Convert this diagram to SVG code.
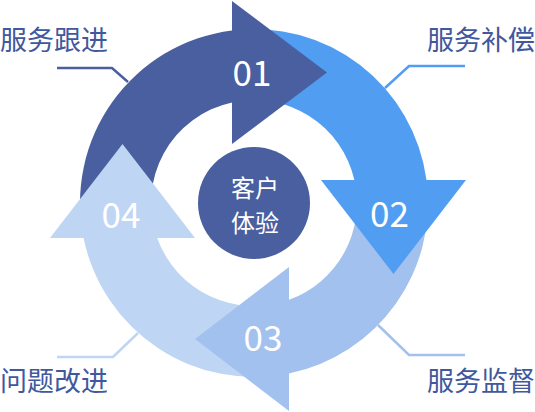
<svg xmlns="http://www.w3.org/2000/svg" width="535" height="412" viewBox="0 0 535 412">
<style>
.lbl{font-family:"Noto Sans CJK SC","Noto Sans",sans-serif;font-size:27px;fill:#41589c}
.num{font-family:"Noto Sans CJK SC","Noto Sans",sans-serif;font-size:35px;fill:#ffffff;text-anchor:middle}
.ctr{font-family:"Noto Sans CJK SC","Noto Sans",sans-serif;font-size:24px;fill:#ffffff;text-anchor:middle}
.lead{fill:none;stroke-width:2.5}
</style>
<rect width="535" height="412" fill="#ffffff"/>
<g id="connectors">
<polyline class="lead" stroke="#4a5fa0" points="57,68 112,68 128,82"/>
<polyline class="lead" stroke="#519df2" points="465,66 409,66 385,88"/>
<polyline class="lead" stroke="#a2c1ef" points="378,325 409,355 465,355"/>
<polyline class="lead" stroke="#bfd5f4" points="138,333 113,357 57,357"/>
</g>
<g id="bands">
<path fill="#4a5fa0" d="M83.56 238 A174 174 0 0 1 232 30.4 L232 102.38 A103 103 0 0 0 157.13 238 Z"/>
<path fill="#519df2" d="M232 30.4 A174 174 0 0 1 426.47 180 L354.4 180 A103 103 0 0 0 232 102.38 Z"/>
<path fill="#a2c1ef" d="M426.47 180 A174 174 0 0 1 289 373.44 L289 299.87 A103 103 0 0 0 354.4 180 Z"/>
<path fill="#bfd5f4" d="M289 373.44 A174 174 0 0 1 83.56 238 L157.13 238 A103 103 0 0 0 289 299.87 Z"/>
</g>
<g id="step01">
<polygon fill="#4a5fa0" points="232,1 327,72.5 232,144"/>
<text class="num" x="252" y="86">01</text>
</g>
<g id="step02">
<polygon fill="#519df2" points="321,180 466,180 393.5,274"/>
<text class="num" x="389.5" y="227">02</text>
</g>
<g id="step03">
<polygon fill="#a2c1ef" points="289,267 289,411 195,339"/>
<text class="num" x="263" y="351">03</text>
</g>
<g id="step04">
<polygon fill="#bfd5f4" points="50,238 195,238 122.5,144"/>
<text class="num" x="121" y="228">04</text>
</g>
<g id="center">
<circle cx="254" cy="203" r="56" fill="#4a5fa0"/>
<text class="ctr" x="255" y="196.5">客户</text>
<text class="ctr" x="255" y="231.5">体验</text>
</g>
<g id="label-follow"><text class="lbl" x="0" y="50">服务跟进</text></g>
<g id="label-comp"><text class="lbl" x="535" y="50" text-anchor="end">服务补偿</text></g>
<g id="label-improve"><text class="lbl" x="0" y="391">问题改进</text></g>
<g id="label-supervise"><text class="lbl" x="535" y="391" text-anchor="end">服务监督</text></g>
</svg>
